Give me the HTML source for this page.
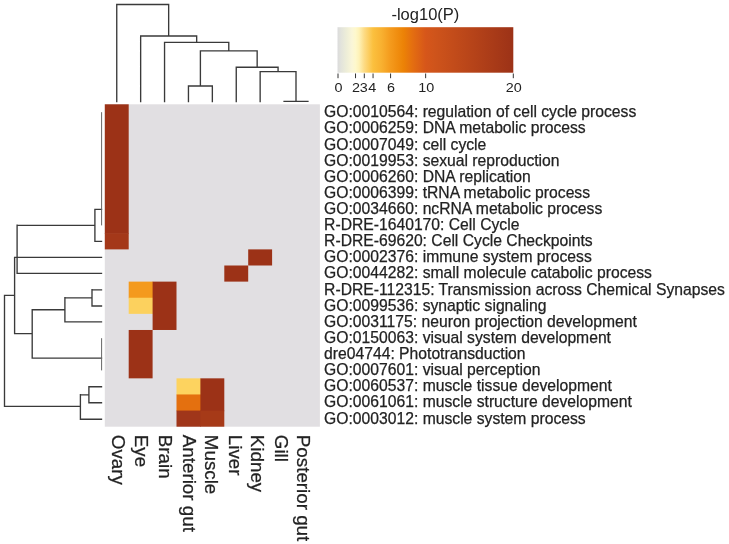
<!DOCTYPE html><html><head><meta charset="utf-8"><style>html,body{margin:0;padding:0;background:#fff;width:729px;height:544px;overflow:hidden}svg{display:block;will-change:transform}text{font-family:"Liberation Sans",sans-serif;fill:#222;stroke:#222;stroke-width:0.25px}text.ns{stroke:none}</style></head><body>
<svg width="729" height="544" viewBox="0 0 729 544">
<rect x="104.8" y="104.3" width="215.10" height="322.40" fill="#e1dfe2"/>
<rect x="104.80" y="104.30" width="23.90" height="129.56" fill="#9c3217"/>
<rect x="104.80" y="233.26" width="23.90" height="16.12" fill="#a43819"/>
<rect x="128.70" y="281.62" width="24.50" height="16.72" fill="#f49a1d"/>
<rect x="128.70" y="297.74" width="24.50" height="16.12" fill="#fcd15e"/>
<rect x="128.70" y="329.98" width="23.90" height="48.36" fill="#9c3217"/>
<rect x="152.60" y="281.62" width="23.90" height="48.36" fill="#9c3217"/>
<rect x="176.50" y="378.34" width="24.50" height="16.72" fill="#fdd35f"/>
<rect x="176.50" y="394.46" width="24.50" height="16.72" fill="#e4700f"/>
<rect x="176.50" y="410.58" width="24.50" height="16.12" fill="#a0361a"/>
<rect x="200.40" y="378.34" width="23.90" height="32.84" fill="#9c3217"/>
<rect x="200.40" y="410.58" width="23.90" height="16.12" fill="#a63a18"/>
<rect x="224.30" y="265.50" width="23.90" height="16.12" fill="#9c3217"/>
<rect x="248.20" y="249.38" width="23.90" height="16.12" fill="#9c3217"/>
<path d="M94.23 209.40H102.17M94.90 208.72V241.98M94.23 241.30H102.17M16.43 225.30H95.58M17.10 224.62V274.07M16.43 273.40H102.17M13.92 257.40H102.17M14.60 256.72V334.28M3.83 295.40H15.28M13.92 333.60H32.88M32.20 309.02V358.78M31.53 309.70H65.58M64.90 297.12V322.57M64.23 297.80H92.67M92.00 289.12V306.68M91.33 289.80H102.17M91.33 306.00H102.17M64.23 321.90H102.17M31.53 358.10H102.17M4.50 294.72V406.98M3.83 406.30H81.08M80.40 394.12V419.88M79.73 419.20H102.17M79.73 394.80H89.58M88.90 386.02V403.38M88.23 386.70H102.17M88.23 402.70H102.17M116.08 4.50H169.33M116.75 3.83V102.17M168.66 3.83V36.67M139.97 36.00H197.34M140.65 35.33V102.17M196.67 35.33V43.07M163.88 42.40H229.46M164.55 41.73V102.17M228.78 41.73V51.57M199.72 50.90H257.84M200.40 50.23V86.67M187.77 86.00H213.03M188.45 85.33V102.17M212.35 85.33V102.17M257.16 50.23V67.88M235.57 67.20H278.75M236.25 66.53V102.17M278.07 66.53V72.27M259.47 71.60H296.68M260.15 70.92V102.17M296.00 70.92V102.08M283.38 101.40H308.62" stroke="#3a3a3a" stroke-width="1.35" fill="none" stroke-linecap="butt"/>
<path d="M101.6 112.2V225.4M101.6 338.2V370.4" stroke="#666" stroke-width="1" fill="none"/>
<text x="324.1" y="117.26" font-size="15.7">GO:0010564: regulation of cell cycle process</text>
<text x="324.1" y="133.38" font-size="15.7">GO:0006259: DNA metabolic process</text>
<text x="324.1" y="149.50" font-size="15.7">GO:0007049: cell cycle</text>
<text x="324.1" y="165.62" font-size="15.7">GO:0019953: sexual reproduction</text>
<text x="324.1" y="181.74" font-size="15.7">GO:0006260: DNA replication</text>
<text x="324.1" y="197.86" font-size="15.7">GO:0006399: tRNA metabolic process</text>
<text x="324.1" y="213.98" font-size="15.7">GO:0034660: ncRNA metabolic process</text>
<text x="324.1" y="230.10" font-size="15.7">R-DRE-1640170: Cell Cycle</text>
<text x="324.1" y="246.22" font-size="15.7">R-DRE-69620: Cell Cycle Checkpoints</text>
<text x="324.1" y="262.34" font-size="15.7">GO:0002376: immune system process</text>
<text x="324.1" y="278.46" font-size="15.7">GO:0044282: small molecule catabolic process</text>
<text x="324.1" y="294.58" font-size="15.7">R-DRE-112315: Transmission across Chemical Synapses</text>
<text x="324.1" y="310.70" font-size="15.7">GO:0099536: synaptic signaling</text>
<text x="324.1" y="326.82" font-size="15.7">GO:0031175: neuron projection development</text>
<text x="324.1" y="342.94" font-size="15.7">GO:0150063: visual system development</text>
<text x="324.1" y="359.06" font-size="15.7">dre04744: Phototransduction</text>
<text x="324.1" y="375.18" font-size="15.7">GO:0007601: visual perception</text>
<text x="324.1" y="391.30" font-size="15.7">GO:0060537: muscle tissue development</text>
<text x="324.1" y="407.42" font-size="15.7">GO:0061061: muscle structure development</text>
<text x="324.1" y="423.54" font-size="15.7">GO:0003012: muscle system process</text>
<text transform="translate(112.40,434.8) rotate(90)" font-size="18.8">Ovary</text>
<text transform="translate(135.40,434.8) rotate(90)" font-size="18.8">Eye</text>
<text transform="translate(159.20,434.8) rotate(90)" font-size="18.8">Brain</text>
<text transform="translate(182.60,434.8) rotate(90)" font-size="18.8">Anterior gut</text>
<text transform="translate(205.20,434.8) rotate(90)" font-size="18.8">Muscle</text>
<text transform="translate(228.80,434.8) rotate(90)" font-size="18.8">Liver</text>
<text transform="translate(251.20,434.8) rotate(90)" font-size="18.8">Kidney</text>
<text transform="translate(274.90,434.8) rotate(90)" font-size="18.8">Gill</text>
<text transform="translate(297.40,434.8) rotate(90)" font-size="18.8">Posterior gut</text>
<defs><linearGradient id="cb" gradientUnits="userSpaceOnUse" x1="338.00" x2="513.30" y1="0" y2="0">
<stop offset="0.0000" stop-color="#dcdcdc"/>
<stop offset="0.0150" stop-color="#e2e3dc"/>
<stop offset="0.0500" stop-color="#eeeed8"/>
<stop offset="0.0800" stop-color="#faf6d8"/>
<stop offset="0.1000" stop-color="#fef8cc"/>
<stop offset="0.1200" stop-color="#fef2b8"/>
<stop offset="0.1500" stop-color="#fddb84"/>
<stop offset="0.2000" stop-color="#fbc03e"/>
<stop offset="0.2500" stop-color="#f8b030"/>
<stop offset="0.3000" stop-color="#f49a1c"/>
<stop offset="0.3500" stop-color="#ef8a0c"/>
<stop offset="0.3750" stop-color="#ec8206"/>
<stop offset="0.4250" stop-color="#e46e10"/>
<stop offset="0.5000" stop-color="#d6561a"/>
<stop offset="0.5500" stop-color="#cf541b"/>
<stop offset="1.0000" stop-color="#9c3217"/>
</linearGradient></defs>
<rect x="337.5" y="27.2" width="175.80" height="45.50" fill="url(#cb)"/>
<line x1="338.00" x2="338.00" y1="73.50" y2="78.20" stroke="#333" stroke-width="1"/>
<text transform="translate(338.50,92.3) scale(1.14,1)" font-size="12.6" text-anchor="middle" class="ns">0</text>
<line x1="355.53" x2="355.53" y1="73.50" y2="78.20" stroke="#333" stroke-width="1"/>
<text transform="translate(356.03,92.3) scale(1.14,1)" font-size="12.6" text-anchor="middle" class="ns">2</text>
<line x1="364.30" x2="364.30" y1="73.50" y2="78.20" stroke="#333" stroke-width="1"/>
<text transform="translate(363.80,92.3) scale(1.14,1)" font-size="12.6" text-anchor="middle" class="ns">3</text>
<line x1="373.06" x2="373.06" y1="73.50" y2="78.20" stroke="#333" stroke-width="1"/>
<text transform="translate(372.26,92.3) scale(1.14,1)" font-size="12.6" text-anchor="middle" class="ns">4</text>
<line x1="390.59" x2="390.59" y1="73.50" y2="78.20" stroke="#333" stroke-width="1"/>
<text transform="translate(391.09,92.3) scale(1.14,1)" font-size="12.6" text-anchor="middle" class="ns">6</text>
<line x1="425.65" x2="425.65" y1="73.50" y2="78.20" stroke="#333" stroke-width="1"/>
<text transform="translate(426.15,92.3) scale(1.14,1)" font-size="12.6" text-anchor="middle" class="ns">10</text>
<line x1="513.30" x2="513.30" y1="73.50" y2="78.20" stroke="#333" stroke-width="1"/>
<text transform="translate(513.80,92.3) scale(1.14,1)" font-size="12.6" text-anchor="middle" class="ns">20</text>
<text x="425.40" y="19.8" font-size="16.5" text-anchor="middle" class="ns">-log10(P)</text>
</svg></body></html>
